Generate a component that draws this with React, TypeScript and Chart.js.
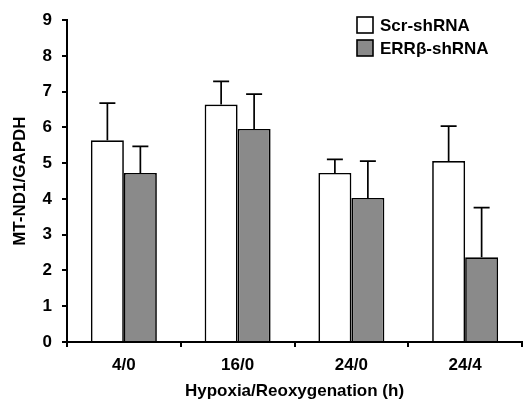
import React, { useEffect, useRef } from "react";
import { Chart, registerables } from "chart.js";

Chart.register(...registerables);

const categories = ["4/0", "16/0", "24/0", "24/4"];
const scrValues = [5.64, 6.64, 4.73, 5.06];
const scrErrors = [1.04, 0.65, 0.38, 0.98];
const errValues = [4.73, 5.96, 4.03, 2.37];
const errErrors = [0.74, 0.97, 1.03, 1.39];
const seriesNames = ["Scr-shRNA", "ERRβ-shRNA"];
const yTicks = [0, 1, 2, 3, 4, 5, 6, 7, 8, 9];

const FONT = '"Liberation Sans", Arial, Helvetica, sans-serif';
const GRAY = "#8a8a8a";

export default function App() {
  const ref = useRef<HTMLCanvasElement | null>(null);

  useEffect(() => {
    document.body.style.margin = "0";
    const canvas = ref.current;
    if (!canvas) return;
    const errorsByDataset = [scrErrors, errErrors];

    const errorBarPlugin = {
      id: "errorBars",
      afterDatasetsDraw(chart: any) {
        const ctx = chart.ctx;
        const yScale = chart.scales.y;
        ctx.save();
        ctx.strokeStyle = "#000";
        ctx.lineWidth = 1.7;
        chart.data.datasets.forEach((ds: any, di: number) => {
          const meta = chart.getDatasetMeta(di);
          meta.data.forEach((el: any, i: number) => {
            const v = ds.data[i];
            const top = yScale.getPixelForValue(v + errorsByDataset[di][i]);
            ctx.beginPath();
            ctx.moveTo(el.x, el.y);
            ctx.lineTo(el.x, top);
            ctx.moveTo(el.x - 8, top);
            ctx.lineTo(el.x + 8, top);
            ctx.stroke();
          });
        });
        ctx.restore();
      },
    };

    const legendPlugin = {
      id: "customLegend",
      afterDraw(chart: any) {
        const ctx = chart.ctx;
        ctx.save();
        const fills = ["#ffffff", GRAY];
        const rows = [25, 48];
        ctx.font = `bold 17px ${FONT}`;
        ctx.textBaseline = "middle";
        ctx.textAlign = "left";
        seriesNames.forEach((name, i) => {
          const cy = rows[i];
          ctx.fillStyle = fills[i];
          ctx.fillRect(357, cy - 8, 16, 16);
          ctx.strokeStyle = "#000";
          ctx.lineWidth = 1.6;
          ctx.strokeRect(357, cy - 8, 16, 16);
          ctx.fillStyle = "#000";
          ctx.fillText(name, 380, cy + 1);
        });
        ctx.restore();
      },
    };

    const chart = new Chart(canvas, {
      type: "bar",
      data: {
        labels: categories,
        datasets: [
          {
            label: seriesNames[0],
            data: scrValues,
            backgroundColor: "#ffffff",
            borderColor: "#000",
            borderWidth: 1.7,
            barPercentage: 1,
            categoryPercentage: 0.58,
          },
          {
            label: seriesNames[1],
            data: errValues,
            backgroundColor: GRAY,
            borderColor: "#000",
            borderWidth: 1.7,
            barPercentage: 1,
            categoryPercentage: 0.58,
          },
        ],
      },
      options: {
        responsive: false,
        animation: false,
        layout: { padding: { top: 20, right: 1, left: 0, bottom: 0 } },
        plugins: {
          legend: { display: false },
          tooltip: { enabled: false },
        },
        scales: {
          x: {
            afterFit: (s: any) => {
              s.height = 58;
            },
            grid: {
              display: true,
              offset: true,
              drawOnChartArea: false,
              drawTicks: true,
              tickLength: 5,
              color: "#000",
              lineWidth: 2,
            },
            border: { display: true, color: "#000", width: 2 },
            ticks: {
              color: "#000",
              font: { family: FONT, size: 17, weight: "bold" },
              padding: 8,
              maxRotation: 0,
            },
            title: {
              display: true,
              text: "Hypoxia/Reoxygenation (h)",
              color: "#000",
              font: { family: FONT, size: 17, weight: "bold", lineHeight: 1 },
              padding: { top: 0, bottom: 0 },
            },
          },
          y: {
            min: 0,
            max: 9,
            afterFit: (s: any) => {
              s.width = 67;
            },
            afterBuildTicks: (s: any) => {
              s.ticks = yTicks.map((v) => ({ value: v }));
            },
            grid: {
              display: true,
              drawOnChartArea: false,
              drawTicks: true,
              tickLength: 5,
              color: "#000",
              lineWidth: 2,
            },
            border: { display: true, color: "#000", width: 2 },
            ticks: {
              color: "#000",
              font: { family: FONT, size: 17, weight: "bold" },
              padding: 10,
            },
            title: {
              display: true,
              text: "MT-ND1/GAPDH",
              color: "#000",
              font: { family: FONT, size: 17, weight: "bold", lineHeight: 1 },
              padding: { top: 12, bottom: 0 },
            },
          },
        },
      },
      plugins: [errorBarPlugin, legendPlugin],
    } as any);

    return () => chart.destroy();
  }, []);

  return <canvas ref={ref} width={523} height={400} style={{ display: "block" }} />;
}
